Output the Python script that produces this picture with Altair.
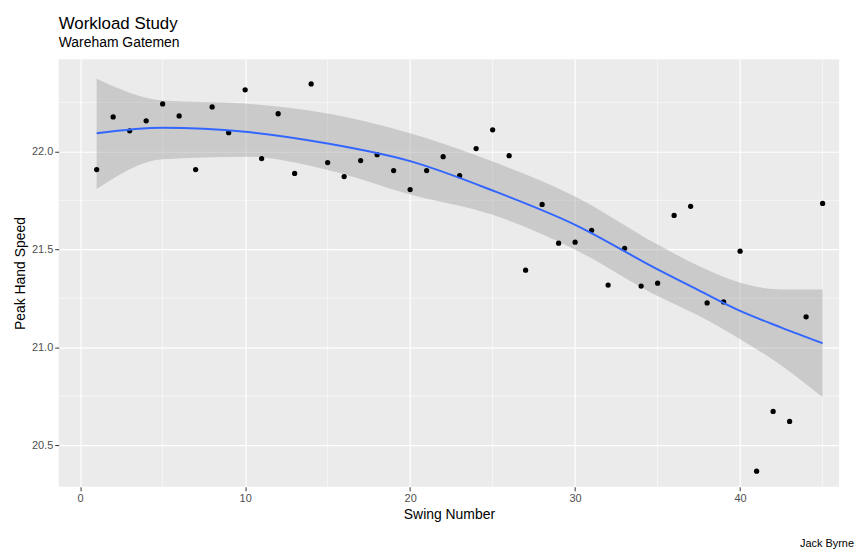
import pandas as pd
import altair as alt

# Swing data
swing = list(range(1, 46))
speed = [21.907, 22.176, 22.105, 22.156, 22.242, 22.181, 21.907, 22.227, 22.095, 22.314,
         21.963, 22.192, 21.887, 22.344, 21.943, 21.871, 21.953, 21.983, 21.902, 21.805,
         21.902, 21.973, 21.876, 22.014, 22.110, 21.978, 21.393, 21.729, 21.531, 21.536,
         21.597, 21.317, 21.505, 21.312, 21.327, 21.673, 21.719, 21.226, 21.231, 21.490,
         20.367, 20.672, 20.621, 21.155, 21.734]

# loess fit and confidence band
fit_x = [1, 5, 10, 15, 20, 25, 30, 35, 37.5, 40, 42.5, 45]
fit_y = [22.092, 22.12, 22.10, 22.04, 21.95, 21.80, 21.625, 21.397, 21.29, 21.185, 21.10, 21.02]
fit_hi = [22.371, 22.26, 22.244, 22.193, 22.092, 21.948, 21.77, 21.524, 21.414, 21.329, 21.295, 21.295]
fit_lo = [21.808, 21.96, 21.973, 21.905, 21.78, 21.676, 21.498, 21.261, 21.16, 21.041, 20.907, 20.744]

minor_x = [5, 15, 25, 35, 45]
minor_y = [20.75, 21.25, 21.75, 22.25]

pts = pd.DataFrame({'swing': swing, 'speed': speed})
fit = pd.DataFrame({'x': fit_x, 'y': fit_y, 'hi': fit_hi, 'lo': fit_lo})

xs = alt.Scale(domain=[-1.3, 46], nice=False, zero=False)
ys = alt.Scale(domain=[20.287, 22.47], nice=False, zero=False)

xax = alt.Axis(values=[0, 10, 20, 30, 40], title='Swing Number')
yax = alt.Axis(values=[20.5, 21.0, 21.5, 22.0], format='.1f', title='Peak Hand Speed')

vminor = alt.Chart(pd.DataFrame({'v': minor_x})).mark_rule(color='white', strokeWidth=0.6).encode(
    x=alt.X('v:Q', scale=xs, axis=xax))
hminor = alt.Chart(pd.DataFrame({'v': minor_y})).mark_rule(color='white', strokeWidth=0.6).encode(
    y=alt.Y('v:Q', scale=ys, axis=yax))

band = alt.Chart(fit).mark_area(color='#999999', opacity=0.4, interpolate='monotone').encode(
    x=alt.X('x:Q', scale=xs, axis=xax),
    y=alt.Y('lo:Q', scale=ys, axis=yax),
    y2='hi:Q')

points = alt.Chart(pts).mark_circle(color='black', size=28, opacity=1).encode(
    x=alt.X('swing:Q', scale=xs, axis=xax),
    y=alt.Y('speed:Q', scale=ys, axis=yax))

line = alt.Chart(fit).mark_line(color='#3366FF', strokeWidth=2, interpolate='monotone').encode(
    x=alt.X('x:Q', scale=xs, axis=xax),
    y=alt.Y('y:Q', scale=ys, axis=yax))

caption = alt.Chart(pd.DataFrame({'t': ['Jack Byrne']})).mark_text(
    align='right', fontSize=11, color='black', font='Liberation Sans').encode(
    text='t:N', x=alt.value(800), y=alt.value(488))

chart = alt.layer(vminor, hminor, band, points, line, caption).properties(
    width=785, height=430,
    title=alt.TitleParams('Workload Study', subtitle='Wareham Gatemen', anchor='start',
                          fontSize=17, fontWeight='normal', subtitleFontSize=14,
                          font='Liberation Sans', subtitleFont='Liberation Sans',
                          color='black', subtitleColor='black', offset=8, frame='group'),
    background='white'
).configure_view(fill='#EBEBEB', stroke=None).configure_axis(
    gridColor='white', gridWidth=1.2, domain=False, tickColor='#333333', tickSize=4,
    labelColor='#4D4D4D', labelFontSize=11, labelFont='Liberation Sans',
    titleFont='Liberation Sans', titleFontSize=14, titleFontWeight='normal', titleColor='black'
)

chart.save("out.html", embed_options={"renderer": "svg", "actions": False})
